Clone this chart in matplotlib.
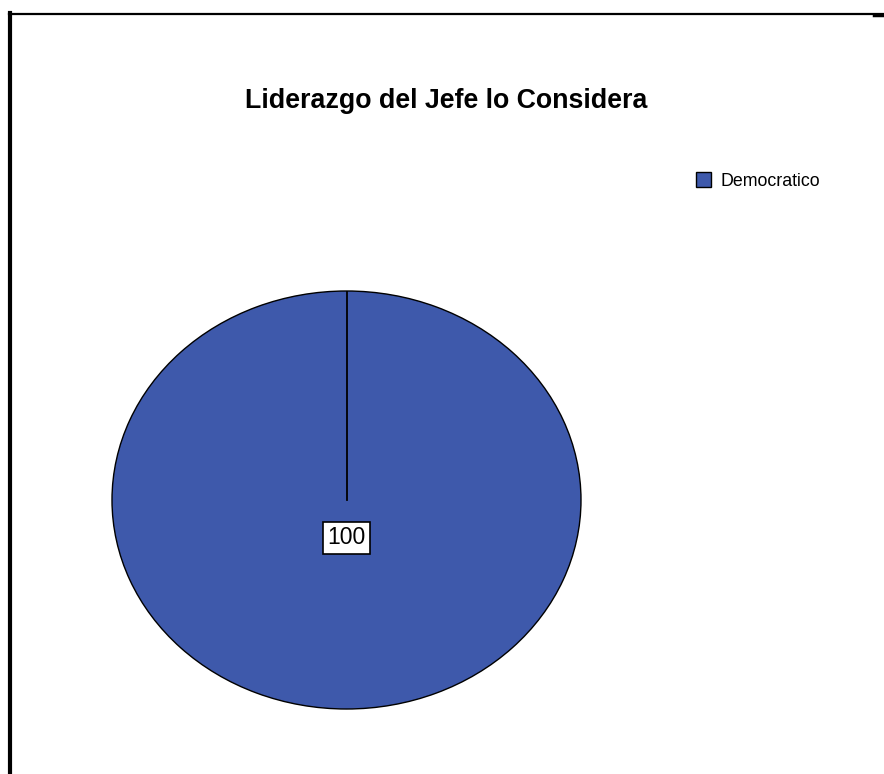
import matplotlib.pyplot as plt
from matplotlib.lines import Line2D

plt.rcParams['font.family'] = ['Liberation Sans', 'DejaVu Sans']

categories = ["Democratico"]
values = [100]
colors = ["#3E59AB"]
title = "Liderazgo del Jefe lo Considera"

W, H = 884, 774
fig = plt.figure(figsize=(W / 100, H / 100), dpi=100)

# frame lines around the chart area
fig.add_artist(Line2D([9 / W, 1], [1 - 13.5 / H, 1 - 13.5 / H], color="black", lw=1.6))
fig.add_artist(Line2D([9.5 / W, 9.5 / W], [0, 1 - 13 / H], color="black", lw=3.0))
fig.add_artist(Line2D([874 / W, 1], [1 - 15 / H, 1 - 15 / H], color="black", lw=2.5))

# pie axes placed so the (stretched) pie fills the ellipse
ax = fig.add_axes([112 / W, (H - 709) / H, 469 / W, 418 / H])
wedges, texts, autotexts = ax.pie(
    values, colors=colors, startangle=90, counterclock=False,
    autopct='%.0f', pctdistance=0.18,
    wedgeprops=dict(edgecolor="black", linewidth=1.0),
    textprops=dict(fontsize=16.5, color="black"))
ax.set_aspect('auto')
ax.set_xlim(-1.0, 1.0)
ax.set_ylim(-1.0, 1.0)
ax.axis('off')

# radial edge of the single wedge (start angle)
ax.plot([0, 0], [0, 1], color="black", lw=1.3)

for t in autotexts:
    t.set_bbox(dict(boxstyle="square,pad=0.2", facecolor="white", edgecolor="black", linewidth=1.2))

fig.text(446 / W, 1 - 101 / H, title, ha="center", va="center",
         fontsize=19.3, fontweight="bold")

fig.legend(wedges, categories, loc="center left", bbox_to_anchor=(687 / W, 1 - 181 / H),
           frameon=False, fontsize=12.8, handlelength=0.85, handleheight=0.85,
           handletextpad=0.55, borderpad=0)

fig.savefig("out.png", dpi=100)
